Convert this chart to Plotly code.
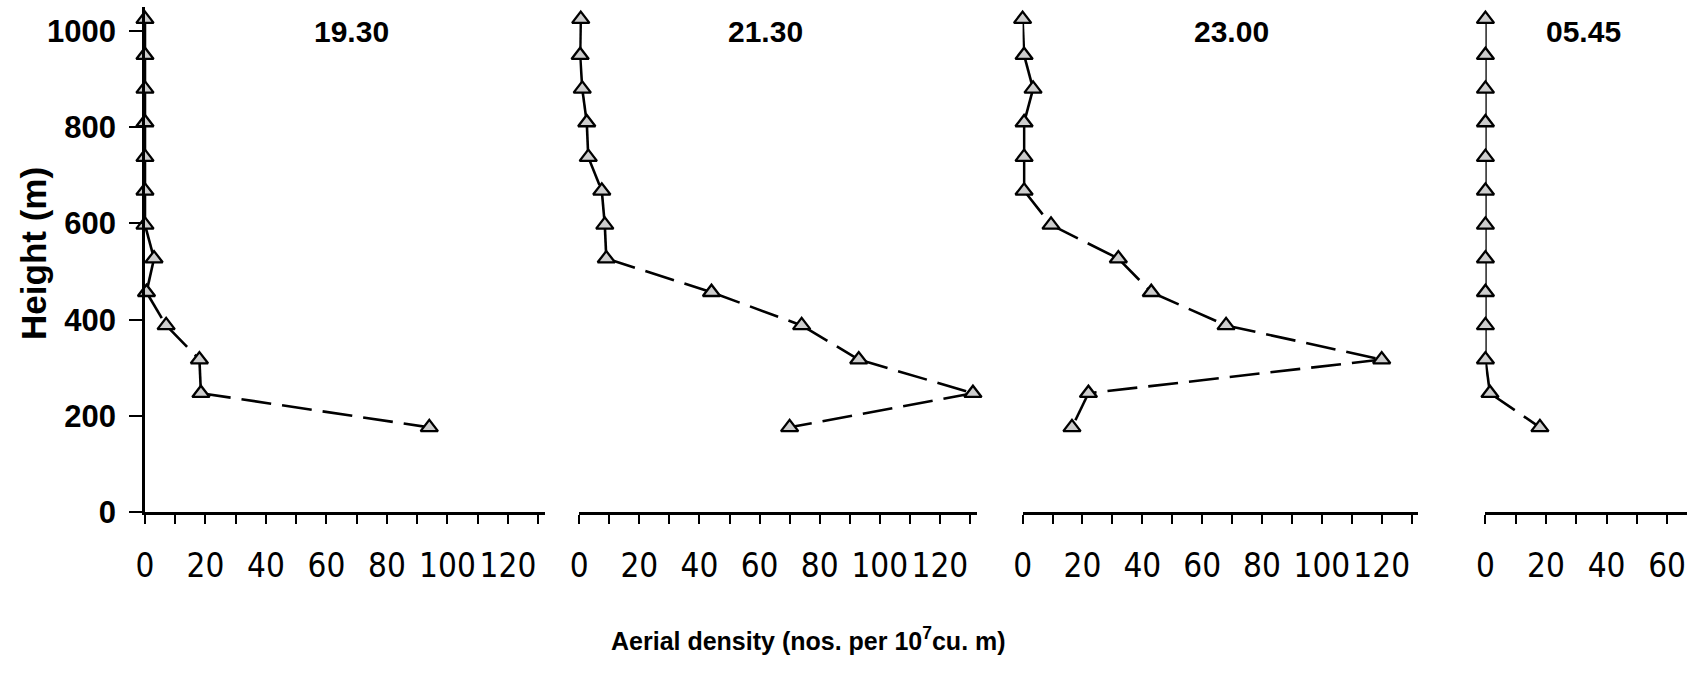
import plotly.graph_objects as go

# Sampling heights (m) and aerial density at four observation times
heights = [1025, 950, 880, 810, 738, 668, 597, 527, 457, 388, 317, 247, 176]
density_1930 = [0, 0, 0, 0, 0, 0, 0, 3, 0.5, 7, 18, 18.5, 94]
density_2130 = [0.5, 0.3, 1, 2.5, 3, 7.5, 8.5, 9, 44, 74, 93, 131, 70]
density_2300 = [0, 0.5, 3.5, 0.5, 0.5, 0.5, 9.5, 32, 43, 68, 120, 22, 16.5]
density_0545 = [0, 0, 0, 0, 0, 0, 0, 0, 0, 0, 0, 1.5, 18]
times = ["19.30", "21.30", "23.00", "05.45"]

height_ticks = [0, 200, 400, 600, 800, 1000]
wide_ticks = list(range(0, 140, 10))
narrow_ticks = list(range(0, 70, 10))

W, H = 1698, 675

# pixel layout of each panel: (values, left, right, x-range max, ticks, title x)
panels = [
    (density_1930, 136.7, 539.0, 132.3, wide_ticks, 344),
    (density_2130, 573.3, 972.7, 132.2, wide_ticks, 761),
    (density_2300, 1019.0, 1416.7, 132.2, wide_ticks, 1229),
    (density_0545, 1484.3, 1686.7, 66.5, narrow_ticks, 1583),
]
y_bottom_px, y_top_px, y_max = 526.0, 7.3, 1050

narrow_font = "Liberation Sans Narrow, Arial Narrow, DejaVu Sans Condensed, Liberation Sans, sans-serif"
bold_font = "Liberation Sans, Arial, sans-serif"

fig = go.Figure()
layout = dict(
    width=W, height=H, margin=dict(l=0, r=0, t=0, b=0),
    paper_bgcolor="white", plot_bgcolor="white", showlegend=False,
    annotations=[],
)

for i, (vals, left, right, xmax, ticks, title_x) in enumerate(panels):
    n = "" if i == 0 else str(i + 1)
    xa, ya = "x" + n, "y" + n
    # dashed connecting segments, each drawn from one point to the next
    for k in range(len(vals) - 1):
        fig.add_trace(go.Scatter(
            x=[vals[k], vals[k + 1]], y=[heights[k], heights[k + 1]],
            mode="lines", xaxis=xa, yaxis=ya, cliponaxis=False,
            line=dict(color="black", width=2.6, dash="30px,11px"),
            hoverinfo="skip",
        ))
    fig.add_trace(go.Scatter(
        x=vals, y=heights, mode="markers", xaxis=xa, yaxis=ya, cliponaxis=False,
        marker=dict(symbol="triangle-up", size=15, color="#cdcdcd",
                    line=dict(color="black", width=2.3)),
    ))
    labels = [str(t) if t % 20 == 0 else "" for t in ticks]
    layout["xaxis" + n] = dict(
        domain=[left / W, right / W], range=[0, xmax], anchor=ya,
        tickmode="array", tickvals=ticks, ticktext=labels,
        showline=True, linewidth=3, linecolor="black",
        ticks="outside", ticklen=9, tickwidth=2.4, tickcolor="black",
        showgrid=False, zeroline=False, ticklabelstandoff=13,
        tickfont=dict(family=narrow_font, size=33, color="black"),
    )
    ydom = [(H - y_bottom_px) / H, (H - y_top_px) / H]
    if i == 0:
        layout["yaxis"] = dict(
            domain=ydom, range=[0, y_max], anchor="x",
            tickmode="array", tickvals=height_ticks,
            showline=True, linewidth=2.6, linecolor="black",
            ticks="outside", ticklen=13, tickwidth=2.4, tickcolor="black",
            showgrid=False, zeroline=False, ticklabelstandoff=7,
            tickfont=dict(family=bold_font, size=31, color="black", weight="bold"),
        )
    else:
        layout["yaxis" + n] = dict(domain=ydom, range=[0, y_max], anchor=xa,
                                   visible=False)
    layout["annotations"].append(dict(
        text=times[i], x=title_x / W, y=1 - 32 / H, xref="paper", yref="paper",
        xanchor="center", yanchor="middle", showarrow=False,
        font=dict(family=bold_font, size=30, color="black", weight="bold"),
    ))

layout["annotations"].append(dict(
    text="Aerial density (nos. per 10<sup>7</sup>cu. m)",
    x=804 / W, y=1 - 657 / H, xref="paper", yref="paper",
    xanchor="center", yanchor="middle", showarrow=False,
    font=dict(family=bold_font, size=25, color="black", weight="bold"),
))
layout["annotations"].append(dict(
    text="Height (m)", x=24 / W, y=1 - 260 / H, xref="paper", yref="paper",
    xanchor="center", yanchor="middle", showarrow=False, textangle=-90,
    font=dict(family=bold_font, size=35, color="black", weight="bold"),
))

fig.update_layout(**layout)
fig.write_html("out.html")
